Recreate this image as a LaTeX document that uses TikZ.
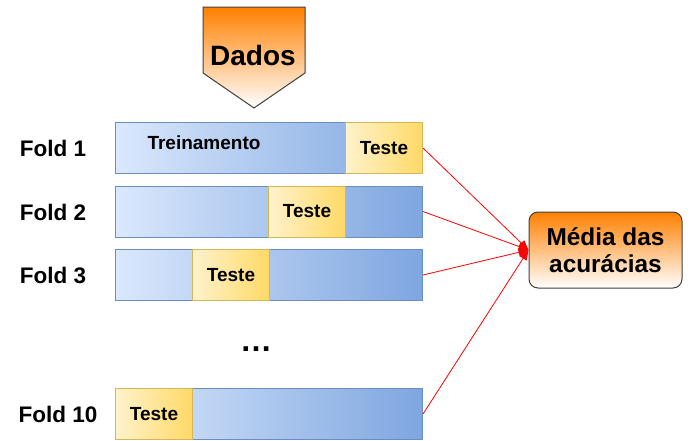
\documentclass[tikz,border=0pt]{standalone}
\usepackage{fontspec}
\setmainfont{Liberation Sans}
\usetikzlibrary{arrows.meta}
\definecolor{barlight}{HTML}{DAE8FC}
\definecolor{bardark}{HTML}{7EA6E0}
\definecolor{barline}{HTML}{6C8EBF}
\definecolor{testlight}{HTML}{FFF2CC}
\definecolor{testdark}{HTML}{FFD966}
\definecolor{testline}{HTML}{D6B656}
\definecolor{orangetop}{HTML}{FF8000}
\definecolor{edgegray}{HTML}{404040}
\begin{document}
\begin{tikzpicture}[x=1pt,y=-1pt,
  lbl/.style={font=\bfseries\fontsize{22.5}{26}\selectfont},
  small/.style={font=\bfseries\fontsize{19}{22}\selectfont},
  bar/.style={rectangle,draw=barline,line width=1pt,left color=barlight,right color=bardark,
    minimum width=307pt,minimum height=51pt,inner sep=0pt,anchor=north west},
  testbox/.style={rectangle,draw=testline,line width=1pt,left color=testlight,right color=testdark,
    minimum width=77pt,minimum height=51pt,inner sep=0pt,anchor=north west,
    font=\bfseries\fontsize{19}{22}\selectfont},
  link/.style={draw=red,line width=0.8pt,-{Triangle[length=10pt,width=8pt]}}]
\useasboundingbox (0,0) rectangle (691,440);

% input data block with pointed bottom
\shade[top color=orangetop,bottom color=white,draw=edgegray,line width=1pt]
  (203,7) -- (305,7) -- (305,73) -- (254,108) -- (203,73) -- cycle;
\node[font=\bfseries\fontsize{28}{32}\selectfont] (dados) at (253,55) {Dados};

% folds
\node[bar] (f1) at (115,122) {};
\node[testbox] (t1) at (345,122) {Teste};
\node[small] (treino) at (204,143) {Treinamento};

\node[bar] (f2) at (115,185.5) {};
\node[testbox] (t2) at (268,185.5) {Teste};

\node[bar] (f3) at (115,249) {};
\node[testbox] (t3) at (192,249) {Teste};

\node[bar] (f10) at (115,388) {};
\node[testbox] (t10) at (115,388) {Teste};

\node[lbl] (l1) at (53,148) {Fold 1};
\node[lbl] (l2) at (53,212) {Fold 2};
\node[lbl] (l3) at (53,275) {Fold 3};
\node[lbl] (l10) at (58,414) {Fold 10};

\node[font=\bfseries\fontsize{32}{34}\selectfont] (dots) at (256,349) {…};

% average of accuracies
\node[rectangle,rounded corners=9pt,draw=edgegray,line width=1pt,top color=orangetop,bottom color=white,
  minimum width=153pt,minimum height=76pt,align=center,
  font=\bfseries\fontsize{24.4}{27}\selectfont] (media) at (605.5,250) {Média das\\acurácias};

\draw[link] (f1.east) -- (media.west);
\draw[link] (f2.east) -- (media.west);
\draw[link] (f3.east) -- (media.west);
\draw[link] (f10.east) -- (media.west);
\end{tikzpicture}
\end{document}
